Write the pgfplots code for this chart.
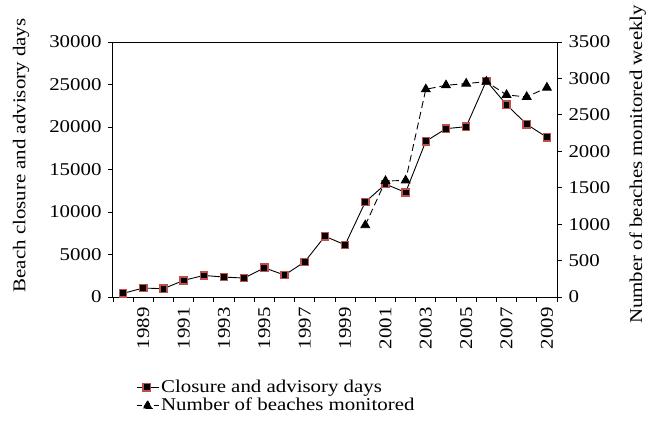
\documentclass[border=0pt]{standalone}
\usepackage{fontspec}
\setmainfont{Liberation Serif}[FakeStretch=1.16]
\usepackage{pgfplots}
\pgfplotsset{compat=1.18}
\definecolor{mred}{RGB}{192,80,77}
\pgfplotstableread{
year days
1988 430
1989 1055
1990 977
1991 1953
1992 2539
1993 2344
1994 2227
1995 3438
1996 2578
1997 4141
1998 7148
1999 6133
2000 11172
2001 13281
2002 12305
2003 18320
2004 19805
2005 20039
2006 25430
2007 22617
2008 20313
2009 18789
}\closure
\pgfplotstableread{
year beaches
2000 985
2001 1592
2002 1600
2003 2851
2004 2906
2005 2929
2006 2956
2007 2774
2008 2746
2009 2874
}\beaches
\begin{document}
\begin{tikzpicture}[font=\fontsize{18}{21}\selectfont]
\useasboundingbox (-113pt,-132pt) rectangle (542pt,297pt);
\pgfplotsset{
  every axis/.append style={
    scale only axis, width=444pt, height=255pt,
    at={(0,0)}, anchor=south west,
    xmin=1987.5, xmax=2009.5,
    axis line style={line width=1pt},
    tick style={line width=0.9pt, black},
    major tick length=5pt,
    /pgf/number format/assume math mode=true,
    /pgf/number format/1000 sep={},
    tick label style={font=\fontsize{18}{21}\selectfont},
    label style={font=\fontsize{18}{21}\selectfont},
  }
}
\begin{axis}[
  ymin=0, ymax=30000,
  ytick={0,5000,...,30000},
  scaled y ticks=false,
  y tick label style={/pgf/number format/fixed, xshift=-3pt},
  axis y line*=left,
  axis x line*=box,
  xtick={1987.5,1988.5,...,2009.5},
  xticklabels={},
  extra x ticks={1989,1991,...,2009},
  extra x tick labels={1989,1991,1993,1995,1997,1999,2001,2003,2005,2007,2009},
  extra x tick style={major tick length=0pt, tick label style={yshift=-7pt, rotate=90, anchor=east}},
  xtick pos=bottom,
  tick align=outside,
  ylabel={Beach closure and advisory days},
  ylabel style={at={(axis description cs:-0.207,0.555)}, anchor=center},
]
\addplot[black, line width=0.9pt, mark=square*, mark size=3.6pt,
  mark options={fill=black, draw=mred, line width=1.4pt}] table[x=year,y=days]{\closure};
\end{axis}
\begin{axis}[
  ymin=0, ymax=3500,
  ytick={0,500,...,3500},
  y tick label style={xshift=3pt},
  axis y line*=right,
  axis x line=none,
  tick align=outside,
  ylabel={Number of beaches monitored weekly},
  ylabel style={at={(axis description cs:1.182,0.52)}, anchor=center, rotate=0},
  legend style={at={(0.045,-0.31)}, anchor=north west, draw=none, fill=none,
    font=\fontsize{18}{21}\selectfont, row sep=0pt,
    legend cell align=left},
]
\addlegendimage{legend image code/.code={
    \draw[black, line width=0.9pt] (0pt,0pt) -- (22pt,0pt);
    \draw[fill=black, draw=mred, line width=1.4pt] (6.4pt,-3.6pt) rectangle (13.6pt,3.6pt);
  }}
\addlegendentry{Closure and advisory days}
\addplot[black, line width=0.9pt, dash pattern=on 7pt off 4pt, mark=triangle*, mark size=5pt,
  mark options={fill=black, solid},
  legend image code/.code={
    \draw[black, line width=0.9pt] (0pt,0pt) -- (5pt,0pt);
    \draw[black, line width=0.9pt] (17pt,0pt) -- (22pt,0pt);
    \fill[black] (11pt,4.5pt) -- (6.5pt,-3pt) -- (15.5pt,-3pt) -- cycle;
  }] table[x=year,y=beaches]{\beaches};
\addlegendentry{Number of beaches monitored}
\end{axis}
\end{tikzpicture}
\end{document}
